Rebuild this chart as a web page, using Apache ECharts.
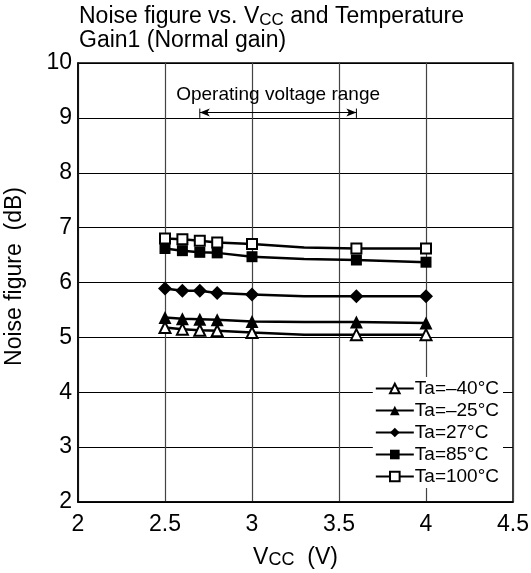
<!DOCTYPE html>
<html><head><meta charset="utf-8">
<script src="https://cdn.jsdelivr.net/npm/echarts@6/dist/echarts.min.js"></script>
<style>html,body{margin:0;padding:0;background:#fff}#c{width:531px;height:573px}</style>
</head><body><div id="c"></div>
<script>
// Data
const vcc = [2.5, 2.6, 2.7, 2.8, 3.0, 3.3, 3.6, 4.0];
const markerShown = [true, true, true, true, true, false, true, true];
const ta_m40 = [5.18, 5.15, 5.13, 5.12, 5.09, 5.05, 5.05, 5.05];
const ta_m25 = [5.36, 5.34, 5.33, 5.32, 5.29, 5.28, 5.28, 5.26];
const ta_27  = [5.89, 5.85, 5.85, 5.81, 5.78, 5.75, 5.75, 5.75];
const ta_85  = [6.62, 6.58, 6.55, 6.54, 6.47, 6.43, 6.41, 6.37];
const ta_100 = [6.80, 6.79, 6.76, 6.73, 6.70, 6.64, 6.62, 6.62];
const seriesNames = ['Ta=–40°C', 'Ta=–25°C', 'Ta=27°C', 'Ta=85°C', 'Ta=100°C'];
const opRange = [2.7, 3.6];
const opArrowY = 9.1;
const opTickTop = 9.17;
const opTickBottom = 9.0;

const FONT = 'Liberation Sans, Arial, Helvetica, sans-serif';
const chart = echarts.init(document.getElementById('c'), null, {renderer: 'canvas'});

function mk(name, vals, symbol, hollow, size) {
  return {
    name: name,
    type: 'line',
    data: vcc.map((x, i) => markerShown[i] ? [x, vals[i]] : {value: [x, vals[i]], symbol: 'none'}),
    symbol: symbol,
    symbolSize: size,
    showAllSymbol: true,
    lineStyle: {color: '#000', width: 2.5},
    itemStyle: hollow ? {color: '#fff', borderColor: '#000', borderWidth: 2} : {color: '#000', borderColor: '#000', borderWidth: 0},
    emphasis: {disabled: true},
    animation: false
  };
}

const series = [
  mk(seriesNames[0], ta_m40, 'triangle', true, 11),
  mk(seriesNames[1], ta_m25, 'triangle', false, 13),
  mk(seriesNames[2], ta_27, 'diamond', false, 14),
  mk(seriesNames[3], ta_85, 'rect', false, 11),
  mk(seriesNames[4], ta_100, 'rect', true, 10)
];
series[2].markLine = {
  silent: true,
  animation: false,
  symbol: ['arrow', 'arrow'],
  symbolSize: [6, 10],
  lineStyle: {color: '#000', width: 1, type: 'solid'},
  label: {show: true, position: 'middle', formatter: 'Operating voltage range', color: '#000', fontSize: 19, fontFamily: FONT, distance: 8},
  data: [
    [{coord: [opRange[0], opArrowY]}, {coord: [opRange[1], opArrowY]}]
  ]
};
opRange.forEach(function (x) {
  series.push({
    type: 'line', silent: true, symbol: 'none', animation: false,
    lineStyle: {color: '#000', width: 1},
    data: [[x, opTickBottom], [x, opTickTop]]
  });
});

chart.setOption({
  backgroundColor: '#fff',
  animation: false,
  title: {
    left: 74, top: 0,
    text: 'Noise figure vs. V{sub|CC} and Temperature\nGain1 (Normal gain)',
    textStyle: {
      color: '#000', fontSize: 23, fontWeight: 'normal', fontFamily: FONT, lineHeight: 24,
      rich: {sub: {fontSize: 17, fontFamily: FONT, color: '#000', verticalAlign: 'bottom', lineHeight: 15}}
    }
  },
  grid: {left: 78, right: 18, top: 63, bottom: 71, show: true, borderColor: '#000', borderWidth: 1.5, backgroundColor: 'transparent', outerBoundsMode: 'none', containLabel: false},
  legend: {
    orient: 'vertical',
    right: 28, top: 377,
    data: seriesNames,
    itemWidth: 38, itemHeight: 12, itemGap: 3,
    backgroundColor: '#fff',
    padding: [2, 4, 2, 2],
    textStyle: {color: '#000', fontSize: 19, fontFamily: FONT, padding: [0, 0, 0, -4]},
    selectedMode: false
  },
  xAxis: {
    type: 'value', min: 2, max: 4.5, interval: 0.5,
    name: 'V{sub|CC}  (V)', nameLocation: 'middle', nameGap: 44,
    nameTextStyle: {color: '#000', fontSize: 23, fontFamily: FONT,
      rich: {sub: {fontSize: 18, fontFamily: FONT, color: '#000', verticalAlign: 'bottom', lineHeight: 13}}},
    axisLine: {show: true, lineStyle: {color: '#000', width: 1.5}},
    axisTick: {show: false},
    axisLabel: {color: '#000', fontSize: 23, fontFamily: FONT, margin: 11},
    splitLine: {show: true, lineStyle: {color: '#444', width: 1.2}}
  },
  yAxis: {
    type: 'value', min: 2, max: 10, interval: 1,
    name: 'Noise figure  (dB)', nameLocation: 'middle', nameGap: 52, nameRotate: 90,
    nameTextStyle: {color: '#000', fontSize: 23, fontFamily: FONT, padding: [0, 0, 0, 12]},
    axisLine: {show: true, lineStyle: {color: '#000', width: 1.5}},
    axisTick: {show: false},
    axisLabel: {color: '#000', fontSize: 23, fontFamily: FONT, margin: 6},
    splitLine: {show: true, lineStyle: {color: '#000', width: 1.2}}
  },
  series: series
});
</script></body></html>
